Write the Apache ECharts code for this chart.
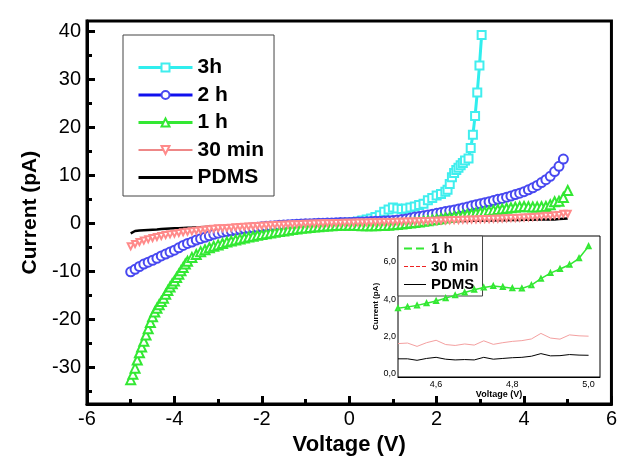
<!DOCTYPE html>
<html>
<head>
<meta charset="utf-8">
<title>I-V curves</title>
<script src="https://cdn.jsdelivr.net/npm/echarts@6/dist/echarts.min.js"></script>
<style>
html, body { margin: 0; padding: 0; background: #fff; }
#chart { width: 620px; height: 461px; }
</style>
</head>
<body>
<div id="chart"></div>
<script>
// voltages (V) shared by 2 h, 30 min and PDMS
const volt = [
  -5.0, -4.9, -4.8, -4.7, -4.6, -4.5, -4.4, -4.3, -4.2, -4.1,
  -4.0, -3.9, -3.8, -3.7, -3.6, -3.5, -3.4, -3.3, -3.2, -3.1,
  -3.0, -2.9, -2.8, -2.7, -2.6, -2.5, -2.4, -2.3, -2.2, -2.1,
  -2.0, -1.9, -1.8, -1.7, -1.6, -1.5, -1.4, -1.3, -1.2, -1.1,
  -1.0, -0.9, -0.8, -0.7, -0.6, -0.5, -0.4, -0.3, -0.2, -0.1,
  0.0, 0.1, 0.2, 0.3, 0.4, 0.5, 0.6, 0.7, 0.8, 0.9,
  1.0, 1.1, 1.2, 1.3, 1.4, 1.5, 1.6, 1.7, 1.8, 1.9,
  2.0, 2.1, 2.2, 2.3, 2.4, 2.5, 2.6, 2.7, 2.8, 2.9,
  3.0, 3.1, 3.2, 3.3, 3.4, 3.5, 3.6, 3.7, 3.8, 3.9,
  4.0, 4.1, 4.2, 4.3, 4.4, 4.5, 4.6, 4.7, 4.8, 4.9,
  5.0
];

const cur2h = [
  -10.1, -9.6, -9.0, -8.5, -8.1, -7.7, -7.3, -6.8, -6.4, -6.0,
  -5.6, -5.1, -4.6, -4.2, -3.9, -3.5, -3.2, -2.9, -2.6, -2.3,
  -2.05, -1.85, -1.7, -1.55, -1.4, -1.25, -1.1, -1.0, -0.9, -0.8,
  -0.7, -0.62, -0.55, -0.48, -0.42, -0.36, -0.3, -0.25, -0.2, -0.15,
  -0.1, -0.07, -0.04, 0.0, 0.03, 0.06, 0.09, 0.12, 0.15, 0.18,
  0.2, 0.23, 0.26, 0.3, 0.34, 0.38, 0.42, 0.46, 0.5, 0.55,
  0.6, 0.7, 0.8, 0.9, 1.1, 1.3, 1.45, 1.6, 1.75, 1.9,
  2.1, 2.25, 2.45, 2.6, 2.8, 3.0, 3.2, 3.4, 3.65, 3.9,
  4.1, 4.3, 4.5, 4.75, 5.0, 5.2, 5.45, 5.7, 6.0, 6.3,
  6.6, 7.0, 7.4, 7.9, 8.5, 9.1, 9.8, 10.8, 11.9, 13.4,
  null
];

const cur30 = [
  -4.8, -4.3, -3.9, -3.6, -3.3, -3.05, -2.85, -2.65, -2.45, -2.3,
  -2.15, -2.0, -1.85, -1.75, -1.65, -1.55, -1.45, -1.35, -1.25, -1.15,
  -1.05, -1.0, -0.95, -0.9, -0.82, -0.75, -0.7, -0.65, -0.6, -0.55,
  -0.5, -0.45, -0.4, -0.36, -0.32, -0.28, -0.24, -0.2, -0.17, -0.14,
  -0.1, -0.08, -0.05, -0.03, 0.0, 0.02, 0.04, 0.07, 0.08, 0.1,
  0.1, 0.12, 0.15, 0.16, 0.18, 0.21, 0.22, 0.24, 0.27, 0.28,
  0.3, 0.33, 0.34, 0.36, 0.39, 0.4, 0.43, 0.47, 0.49, 0.52,
  0.55, 0.59, 0.61, 0.64, 0.68, 0.7, 0.73, 0.77, 0.79, 0.82,
  0.85, 0.89, 0.91, 0.94, 0.98, 1.0, 1.04, 1.09, 1.12, 1.16,
  1.2, 1.26, 1.3, 1.36, 1.45, 1.6, 1.55, 1.7, 1.75, 2.0,
  2.0
];

const curPdms = [
  -2.1, -1.6, -1.5, -1.45, -1.4, -1.35, -1.3, -1.2, -1.15, -1.1,
  -1.05, -1.0, -0.95, -0.9, -0.88, -0.85, -0.8, -0.75, -0.72, -0.7,
  -0.65, -0.62, -0.58, -0.55, -0.5, -0.48, -0.45, -0.42, -0.4, -0.36,
  -0.34, -0.3, -0.28, -0.25, -0.22, -0.2, -0.18, -0.15, -0.12, -0.1,
  -0.08, -0.05, -0.03, 0.0, 0.02, 0.04, 0.06, 0.08, 0.1, 0.11,
  0.12, 0.14, 0.16, 0.17, 0.18, 0.2, 0.21, 0.22, 0.24, 0.25,
  0.26, 0.28, 0.29, 0.3, 0.32, 0.33, 0.35, 0.36, 0.37, 0.39,
  0.4, 0.42, 0.43, 0.45, 0.46, 0.48, 0.5, 0.51, 0.53, 0.55,
  0.56, 0.58, 0.6, 0.61, 0.63, 0.65, 0.66, 0.68, 0.7, 0.72,
  0.74, 0.75, 0.77, 0.78, 0.8, 0.8, 0.82, 0.82, 0.9, 0.98,
  1.02
];

// 1 h was sampled finer where it is steep
const volt1h = [
  -5.0, -4.95, -4.9, -4.85, -4.8, -4.75, -4.7, -4.65, -4.6, -4.55,
  -4.5, -4.45, -4.4, -4.35, -4.3, -4.25, -4.2, -4.15, -4.1, -4.05,
  -4.0, -3.95, -3.9, -3.85, -3.8, -3.75, -3.7,
  -3.6, -3.5, -3.4, -3.3, -3.2, -3.1,
  -3.0, -2.9, -2.8, -2.7, -2.6, -2.5, -2.4, -2.3, -2.2, -2.1,
  -2.0, -1.9, -1.8, -1.7, -1.6, -1.5, -1.4, -1.3, -1.2, -1.1,
  -1.0, -0.9, -0.8, -0.7, -0.6, -0.5, -0.4, -0.3, -0.2, -0.1,
  0.0, 0.1, 0.2, 0.3, 0.4, 0.5, 0.6, 0.7, 0.8, 0.9,
  1.0, 1.1, 1.2, 1.3, 1.4, 1.5, 1.6, 1.7, 1.8, 1.9,
  2.0, 2.1, 2.2, 2.3, 2.4, 2.5, 2.6, 2.7, 2.8, 2.9,
  3.0, 3.1, 3.2, 3.3, 3.4, 3.5, 3.6, 3.7, 3.8, 3.9,
  4.0, 4.1, 4.2, 4.3, 4.4, 4.5, 4.6, 4.7, 4.8, 4.9,
  5.0
];
const cur1h = [
  -32.6, -31.5, -30.2, -28.5, -27.0, -25.8, -24.6, -23.3, -22.0, -20.7,
  -19.5, -18.5, -17.7, -17.0, -16.3, -15.6, -14.8, -14.0, -13.3, -12.6,
  -12.0, -11.3, -10.6, -9.9, -9.2, -8.5, -7.9,
  -7.1, -6.5, -5.9, -5.5, -5.1, -4.8,
  -4.5, -4.2, -3.9, -3.7, -3.45, -3.25, -3.05, -2.85, -2.7, -2.5,
  -2.35, -2.15, -2.0, -1.85, -1.7, -1.6, -1.45, -1.3, -1.2, -1.05,
  -0.95, -0.85, -0.75, -0.7, -0.6, -0.55, -0.5, -0.45, -0.42, -0.4,
  -0.4, -0.42, -0.45, -0.5, -0.52, -0.52, -0.5, -0.47, -0.43, -0.38,
  -0.3, -0.22, -0.12, -0.02, 0.08, 0.18, 0.3, 0.42, 0.55, 0.68,
  0.8, 0.95, 1.1, 1.25, 1.4, 1.55, 1.7, 1.85, 2.0, 2.15,
  2.3, 2.45, 2.6, 2.75, 2.9, 3.0, 3.15, 3.25, 3.35, 3.45,
  3.5, 3.45, 3.4, 3.4, 3.45, 3.5, 3.9, 4.5, 4.6, 5.4,
  6.85
];

const volt3h = [
  0.0, 0.1, 0.2, 0.3, 0.4, 0.5, 0.6, 0.7, 0.8, 0.9,
  1.0, 1.1, 1.2, 1.3, 1.4, 1.5, 1.6, 1.7, 1.8, 1.9,
  2.0, 2.1, 2.2, 2.25, 2.3, 2.35, 2.4, 2.45, 2.5, 2.55,
  2.6, 2.65, 2.73, 2.78, 2.83, 2.88, 2.93, 2.98, 3.03
];
const cur3h = [
  0.2, 0.3, 0.4, 0.6, 0.8, 1.0, 1.3, 1.7, 2.4, 2.9,
  3.3, 3.1, 3.0, 3.1, 3.3, 3.5, 3.8, 4.1, 4.8, 5.3,
  5.8, 6.1, 6.6, 7.0, 8.2, 9.6, 10.5, 11.1, 11.6, 12.1,
  12.6, 13.1, 13.5, 15.7, 18.5, 22.4, 27.3, 32.9, 39.3
];

// inset, 4.5 - 5.0 V
const insetVolt = [
  4.5, 4.525, 4.55, 4.575, 4.6, 4.625, 4.65, 4.675, 4.7, 4.725,
  4.75, 4.775, 4.8, 4.825, 4.85, 4.875, 4.9, 4.925, 4.95, 4.975, 5.0
];
const inset1h = [
  3.5, 3.58, 3.66, 3.77, 3.9, 4.05, 4.2, 4.35, 4.5, 4.62,
  4.7, 4.65, 4.58, 4.57, 4.75, 5.1, 5.4, 5.62, 5.85, 6.2, 6.85
];
const inset30 = [
  1.6, 1.63, 1.45, 1.65, 1.78, 1.55, 1.5, 1.58, 1.52, 1.75,
  1.56, 1.65, 1.72, 1.76, 1.85, 2.15, 1.9, 1.84, 2.07, 2.02, 2.0
];
const insetPdms = [
  0.78, 0.78, 0.7, 0.8, 0.86, 0.76, 0.72, 0.74, 0.72, 0.86,
  0.76, 0.8, 0.84, 0.86, 0.92, 1.06, 0.94, 0.95, 1.01, 0.98, 0.97
];

const yLabels = [-30, -20, -10, 0, 10, 20, 30, 40];
const yMinor = [-35, -25, -15, -5, 5, 15, 25, 35];
const insetXLabels = [4.6, 4.8, 5.0];
const insetXTicks = [4.6, 4.7, 4.8, 4.9, 5.0];
const insetYLabels = [0, 2, 4, 6];
const insetYTicks = [0, 1, 2, 3, 4, 5, 6, 7];

function pairs(xs, ys) {
  return xs.map((x, i) => [x, ys[i]]).filter(p => p[1] != null);
}
function comma(v) {
  return v.toFixed(1).replace('.', ',');
}

const font = 'Liberation Sans, Arial, sans-serif';
const black = '#000';

const chart = echarts.init(document.getElementById('chart'));
chart.setOption({
  animation: false,
  textStyle: { fontFamily: font, color: black },
  grid: [
    { left: 87, right: 7, top: 21, bottom: 54, show: true, borderColor: black, borderWidth: 3 },
    { left: 398, width: 202, top: 236, height: 141, show: true, borderColor: black, borderWidth: 1, backgroundColor: '#fff', z: 3 }
  ],
  xAxis: [
    {
      gridIndex: 0, type: 'value', min: -6, max: 6, interval: 2,
      name: 'Voltage (V)', nameLocation: 'middle', nameGap: 29,
      nameTextStyle: { fontSize: 22, fontWeight: 'bold', color: black, fontFamily: font },
      axisLine: { onZero: false, lineStyle: { color: black, width: 3 } },
      axisTick: { inside: true, length: 8, lineStyle: { color: black, width: 3 } },
      minorTick: { show: true, splitNumber: 2, length: 5, lineStyle: { color: black, width: 3 } },
      axisLabel: { fontSize: 20, color: black, margin: 5, fontFamily: font },
      splitLine: { show: false }
    },
    {
      gridIndex: 1, type: 'value', min: 4.5, max: 5.03,
      name: 'Voltage (V)', nameLocation: 'middle', nameGap: 12,
      nameTextStyle: { fontSize: 9, fontWeight: 'bold', color: black, fontFamily: font },
      axisLine: { onZero: false, lineStyle: { color: black, width: 1 } },
      axisTick: { inside: true, length: 3, customValues: insetXTicks, lineStyle: { color: black } },
      axisLabel: { fontSize: 9, color: black, margin: 3, customValues: insetXLabels, formatter: comma },
      splitLine: { show: false }
    }
  ],
  yAxis: [
    {
      gridIndex: 0, type: 'value', min: -37.7, max: 42.2,
      name: 'Current (pA)', nameLocation: 'middle', nameGap: 45,
      nameTextStyle: { fontSize: 21, fontWeight: 'bold', color: black, fontFamily: font },
      axisLine: { onZero: false, lineStyle: { color: black, width: 3 } },
      axisTick: { inside: true, length: 8, customValues: yLabels, lineStyle: { color: black, width: 3 } },
      axisLabel: { fontSize: 20, color: black, margin: 6, customValues: yLabels, fontFamily: font },
      splitLine: { show: false }
    },
    {
      // minor ticks of the main y axis
      gridIndex: 0, type: 'value', min: -37.7, max: 42.2, position: 'left',
      axisLine: { show: false, onZero: false },
      axisTick: { inside: true, length: 5, customValues: yMinor, lineStyle: { color: black, width: 3 } },
      axisLabel: { show: false },
      splitLine: { show: false }
    },
    {
      gridIndex: 1, type: 'value', min: -0.2, max: 7.4,
      name: 'Current (pA)', nameLocation: 'middle', nameGap: 15,
      nameTextStyle: { fontSize: 8, fontWeight: 'bold', color: black, fontFamily: font },
      axisLine: { onZero: false, lineStyle: { color: black, width: 1 } },
      axisTick: { inside: true, length: 3, customValues: insetYTicks, lineStyle: { color: black } },
      axisLabel: { fontSize: 9, color: black, margin: 2, customValues: insetYLabels, formatter: comma },
      splitLine: { show: false }
    }
  ],
  legend: [
    {
      left: 123, top: 35, orient: 'vertical',
      padding: [22, 10, 8, 14], itemGap: 6.5,
      itemWidth: 54, itemHeight: 10,
      borderColor: '#444', borderWidth: 1, backgroundColor: '#fff',
      textStyle: { fontSize: 21, fontWeight: 'bold', color: black, fontFamily: font },
      data: [
        { name: '3h', lineStyle: { width: 3, opacity: 1 } },
        { name: '2 h', lineStyle: { width: 3, opacity: 1 } },
        { name: '1 h', lineStyle: { width: 3, opacity: 1 } },
        { name: '30 min', lineStyle: { width: 1, opacity: 1, color: '#dd1111' } },
        { name: 'PDMS', lineStyle: { width: 3, opacity: 1, color: black }, itemStyle: { opacity: 0 } }
      ]
    },
    {
      left: 398, top: 236, orient: 'vertical',
      padding: [5, 4, 4, 5], itemGap: 3,
      itemWidth: 22, itemHeight: 8,
      borderColor: '#444', borderWidth: 1, backgroundColor: '#fff',
      textStyle: { fontSize: 15, fontWeight: 'bold', color: black, fontFamily: font },
      formatter: n => ({ i1h: '1 h', i30: '30 min', iPdms: 'PDMS' })[n],
      data: [
        { name: 'i1h', lineStyle: { type: 'dashed', width: 2, color: '#33e833' }, itemStyle: { opacity: 0 } },
        { name: 'i30', lineStyle: { type: 'dashed', width: 1, color: '#ee2222' }, itemStyle: { opacity: 0 } },
        { name: 'iPdms', lineStyle: { width: 1, color: black }, itemStyle: { opacity: 0 } }
      ]
    }
  ],
  series: [
    {
      name: '3h', type: 'line', xAxisIndex: 0, yAxisIndex: 0,
      data: pairs(volt3h, cur3h),
      symbol: 'emptyRect', symbolSize: 8, showAllSymbol: true,
      itemStyle: { color: '#40eeee', borderWidth: 1 },
      lineStyle: { color: '#30eeee', width: 3 }
    },
    {
      name: '2 h', type: 'line', xAxisIndex: 0, yAxisIndex: 0,
      data: pairs(volt, cur2h),
      symbol: 'emptyCircle', symbolSize: 9, showAllSymbol: true,
      itemStyle: { color: '#4848f0', borderWidth: 1 },
      lineStyle: { color: '#1010ee', width: 1 }
    },
    {
      name: '1 h', type: 'line', xAxisIndex: 0, yAxisIndex: 0,
      data: pairs(volt1h, cur1h),
      symbol: 'emptyTriangle', symbolSize: 9, showAllSymbol: true,
      itemStyle: { color: '#33e833', borderWidth: 1 },
      lineStyle: { color: '#33e833', width: 1 }
    },
    {
      name: '30 min', type: 'line', xAxisIndex: 0, yAxisIndex: 0,
      data: pairs(volt, cur30),
      symbol: 'emptyTriangle', symbolRotate: 180, symbolSize: 6, showAllSymbol: true,
      itemStyle: { color: '#ff8a8a', borderWidth: 1 },
      lineStyle: { color: '#dd1111', width: 1 }
    },
    {
      name: 'PDMS', type: 'line', xAxisIndex: 0, yAxisIndex: 0,
      data: pairs(volt, curPdms),
      symbol: 'none',
      itemStyle: { color: black },
      lineStyle: { color: black, width: 2.5 }
    },
    {
      name: 'i1h', type: 'line', xAxisIndex: 1, yAxisIndex: 2, z: 4,
      data: pairs(insetVolt, inset1h),
      symbol: 'emptyTriangle', symbolSize: 4, showAllSymbol: true,
      itemStyle: { color: '#33e833', borderWidth: 0.5 },
      lineStyle: { color: '#33e833', width: 1.5 }
    },
    {
      name: 'i30', type: 'line', xAxisIndex: 1, yAxisIndex: 2, z: 4,
      data: pairs(insetVolt, inset30),
      symbol: 'none',
      itemStyle: { color: '#ee2222' },
      lineStyle: { color: '#f4a0a0', width: 1 }
    },
    {
      name: 'iPdms', type: 'line', xAxisIndex: 1, yAxisIndex: 2, z: 4,
      data: pairs(insetVolt, insetPdms),
      symbol: 'none',
      itemStyle: { color: black },
      lineStyle: { color: black, width: 1 }
    }
  ]
});
</script>
</body>
</html>
